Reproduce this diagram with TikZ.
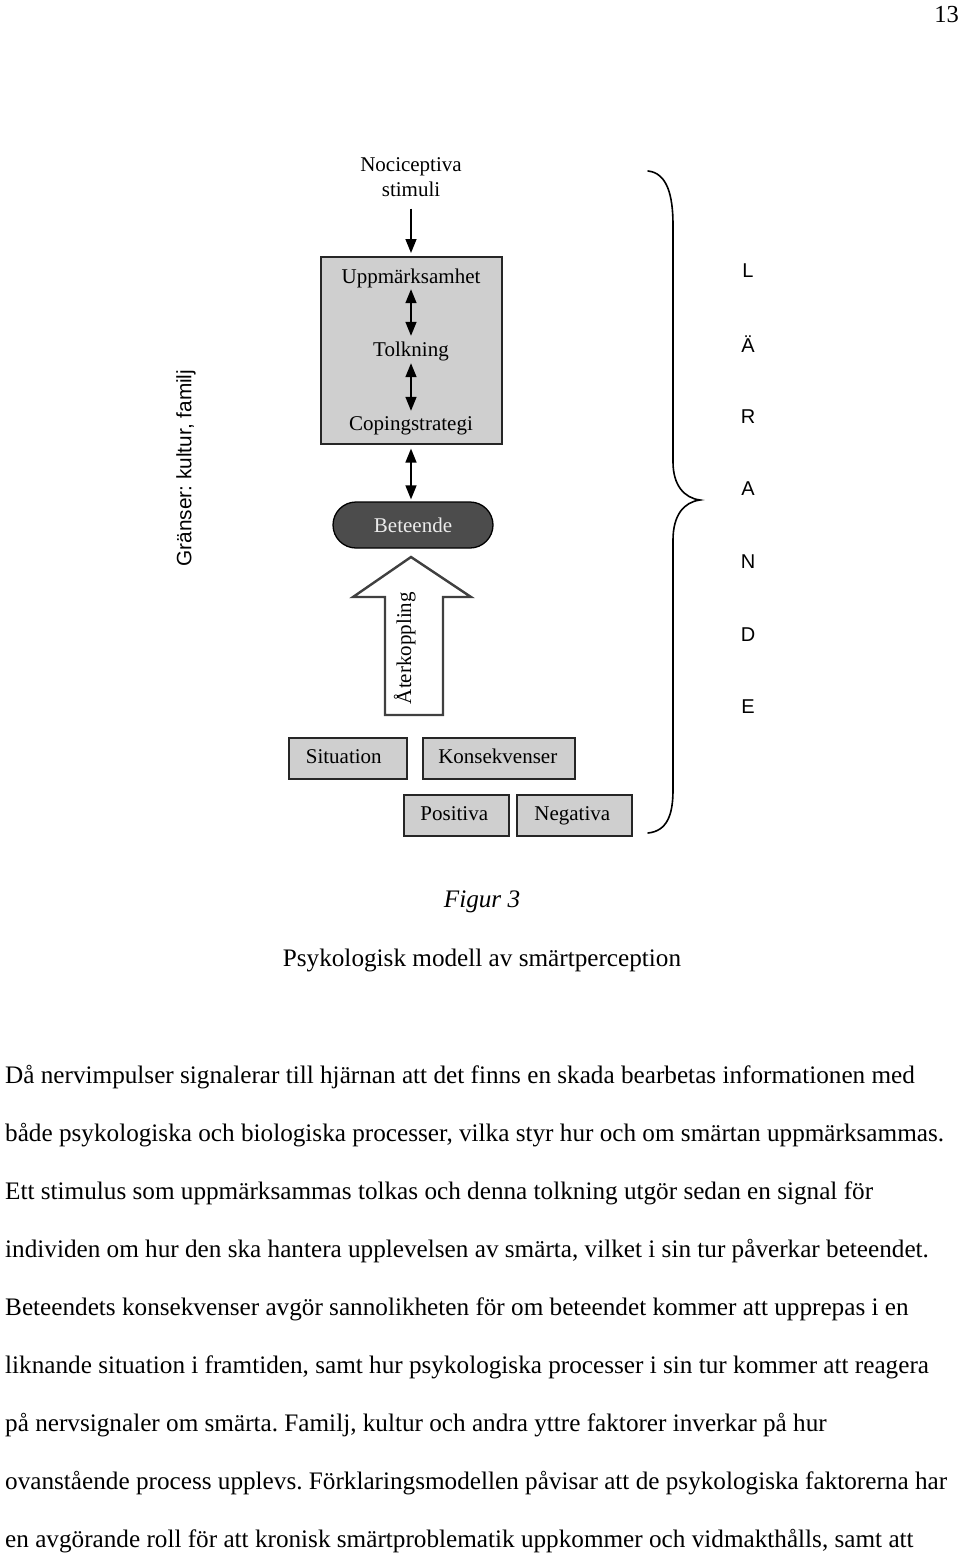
\documentclass[tikz,border=0pt]{standalone}
\usepackage{fontspec}
\setmainfont{Liberation Serif}
\setsansfont{Liberation Sans}
\usetikzlibrary{arrows.meta}
\frenchspacing
\begin{document}
\begin{tikzpicture}[x=1pt,y=-1pt,
  lbl/.style={font=\fontsize{21}{24.5}\selectfont, inner sep=0pt, text height=14pt, text depth=4pt},
  grbox/.style={draw=black!85, line width=1.6pt, fill=black!19, inner sep=0pt, anchor=north west},
  arr/.style={line width=1.5pt, -{Triangle[length=14pt,width=11pt]}},
  dbl/.style={line width=1.5pt, {Triangle[length=14pt,width=11pt]}-{Triangle[length=14pt,width=11pt]}},
  lett/.style={font=\sffamily\fontsize{20}{24}\selectfont, inner sep=0pt},
  body/.style={font=\fontsize{25.2}{29}\selectfont, anchor=west, inner sep=0pt}
]
\useasboundingbox (0,0) rectangle (960,1559);

% page number
\node[font=\fontsize{24.5}{28}\selectfont, anchor=east, inner sep=0pt] (pg) at (959,15) {13};

% stimuli
\node[lbl, align=center, text height=, text depth=] (stim) at (411,177) {Nociceptiva\\stimuli};

% gray box
\node[grbox, minimum width=181pt, minimum height=187pt] (box) at (320,256) {};
\node[lbl] (upp) at (411,278) {Uppmärksamhet};
\node[lbl] (tol) at (411,351) {Tolkning};
\node[lbl] (cop) at (411,425) {Copingstrategi};

\draw[arr, shorten <=12pt, shorten >=3pt] (stim.south) -- (box.north -| stim.south);
\draw[dbl, shorten <=2pt, shorten >=6pt] (upp.south) -- (tol.north);
\draw[dbl, shorten <=3pt, shorten >=5pt] (tol.south) -- (cop.north);

% Beteende
\node[draw=black, line width=1.3pt, fill=black!70, rounded corners=23pt,
      minimum width=160pt, minimum height=46pt, inner sep=0pt,
      font=\fontsize{21}{24.5}\selectfont, text=black!8] (bet) at (413,525) {Beteende};
\draw[dbl, shorten <=4pt, shorten >=2pt] (box.south -| cop.south) -- (bet.north -| cop.south);

% feedback arrow
\draw[draw=black!75, line width=2.4pt, fill=white, line join=miter]
  (411,557) -- (471,597) -- (443,597) -- (443,715) -- (385,715) -- (385,597) -- (353,597) -- cycle;
\node[lbl, rotate=90] (ater) at (406,648) {Återkoppling};

% bottom boxes
\node[grbox, minimum width=118pt, minimum height=41pt] (sit) at (288,737) {};
\node[lbl] at ([xshift=-4pt]sit.center) {Situation};
\node[grbox, minimum width=152pt, minimum height=41pt] (kon) at (422,737) {};
\node[lbl] at ([xshift=-1pt]kon.center) {Konsekvenser};
\node[grbox, minimum width=105pt, minimum height=41pt] (pos) at (403,794) {};
\node[lbl] at ([xshift=-2pt]pos.center) {Positiva};
\node[grbox, minimum width=115pt, minimum height=41pt] (neg) at (516,794) {};
\node[lbl] at ([xshift=-2pt]neg.center) {Negativa};

% brace
\draw[line width=1.6pt, line cap=round]
  (648,171) .. controls (667,173) and (673,195) .. (673,225)
  -- (673,462) .. controls (673,485) and (684,498) .. (700,500)
  .. controls (684,502) and (673,515) .. (673,540)
  -- (673,790) .. controls (673,815) and (667,831) .. (648,833);

% LÄRANDE
\node[lett] (l1) at (748,271) {L};
\node[lett] (l2) at (748,344) {Ä};
\node[lett] (l3) at (748,417) {R};
\node[lett] (l4) at (748,489) {A};
\node[lett] (l5) at (748,562) {N};
\node[lett] (l6) at (748,635) {D};
\node[lett] (l7) at (748,707) {E};

% borders
\node[font=\sffamily\fontsize{20.8}{24}\selectfont, rotate=90, inner sep=0pt] (gr) at (186,468) {Gränser: kultur, familj};

% caption
\node[font=\itshape\fontsize{25.2}{29}\selectfont, inner sep=0pt] (fig) at (482,902) {Figur 3};
\node[font=\fontsize{25.2}{29}\selectfont, inner sep=0pt] (cap) at (482,960) {Psykologisk modell av smärtperception};

% body
\node[body] (b1) at (5,1077) {Då nervimpulser signalerar till hjärnan att det finns en skada bearbetas informationen med};
\node[body] (b2) at (5,1135) {både psykologiska och biologiska processer, vilka styr hur och om smärtan uppmärksammas.};
\node[body] (b3) at (5,1193) {Ett stimulus som uppmärksammas tolkas och denna tolkning utgör sedan en signal för};
\node[body] (b4) at (5,1251) {individen om hur den ska hantera upplevelsen av smärta, vilket i sin tur påverkar beteendet.};
\node[body] (b5) at (5,1309) {Beteendets konsekvenser avgör sannolikheten för om beteendet kommer att upprepas i en};
\node[body] (b6) at (5,1367) {liknande situation i framtiden, samt hur psykologiska processer i sin tur kommer att reagera};
\node[body] (b7) at (5,1425) {på nervsignaler om smärta. Familj, kultur och andra yttre faktorer inverkar på hur};
\node[body] (b8) at (5,1483) {ovanstående process upplevs. Förklaringsmodellen påvisar att de psykologiska faktorerna har};
\node[body] (b9) at (5,1541) {en avgörande roll för att kronisk smärtproblematik uppkommer och vidmakthålls, samt att};
\end{tikzpicture}
\end{document}
